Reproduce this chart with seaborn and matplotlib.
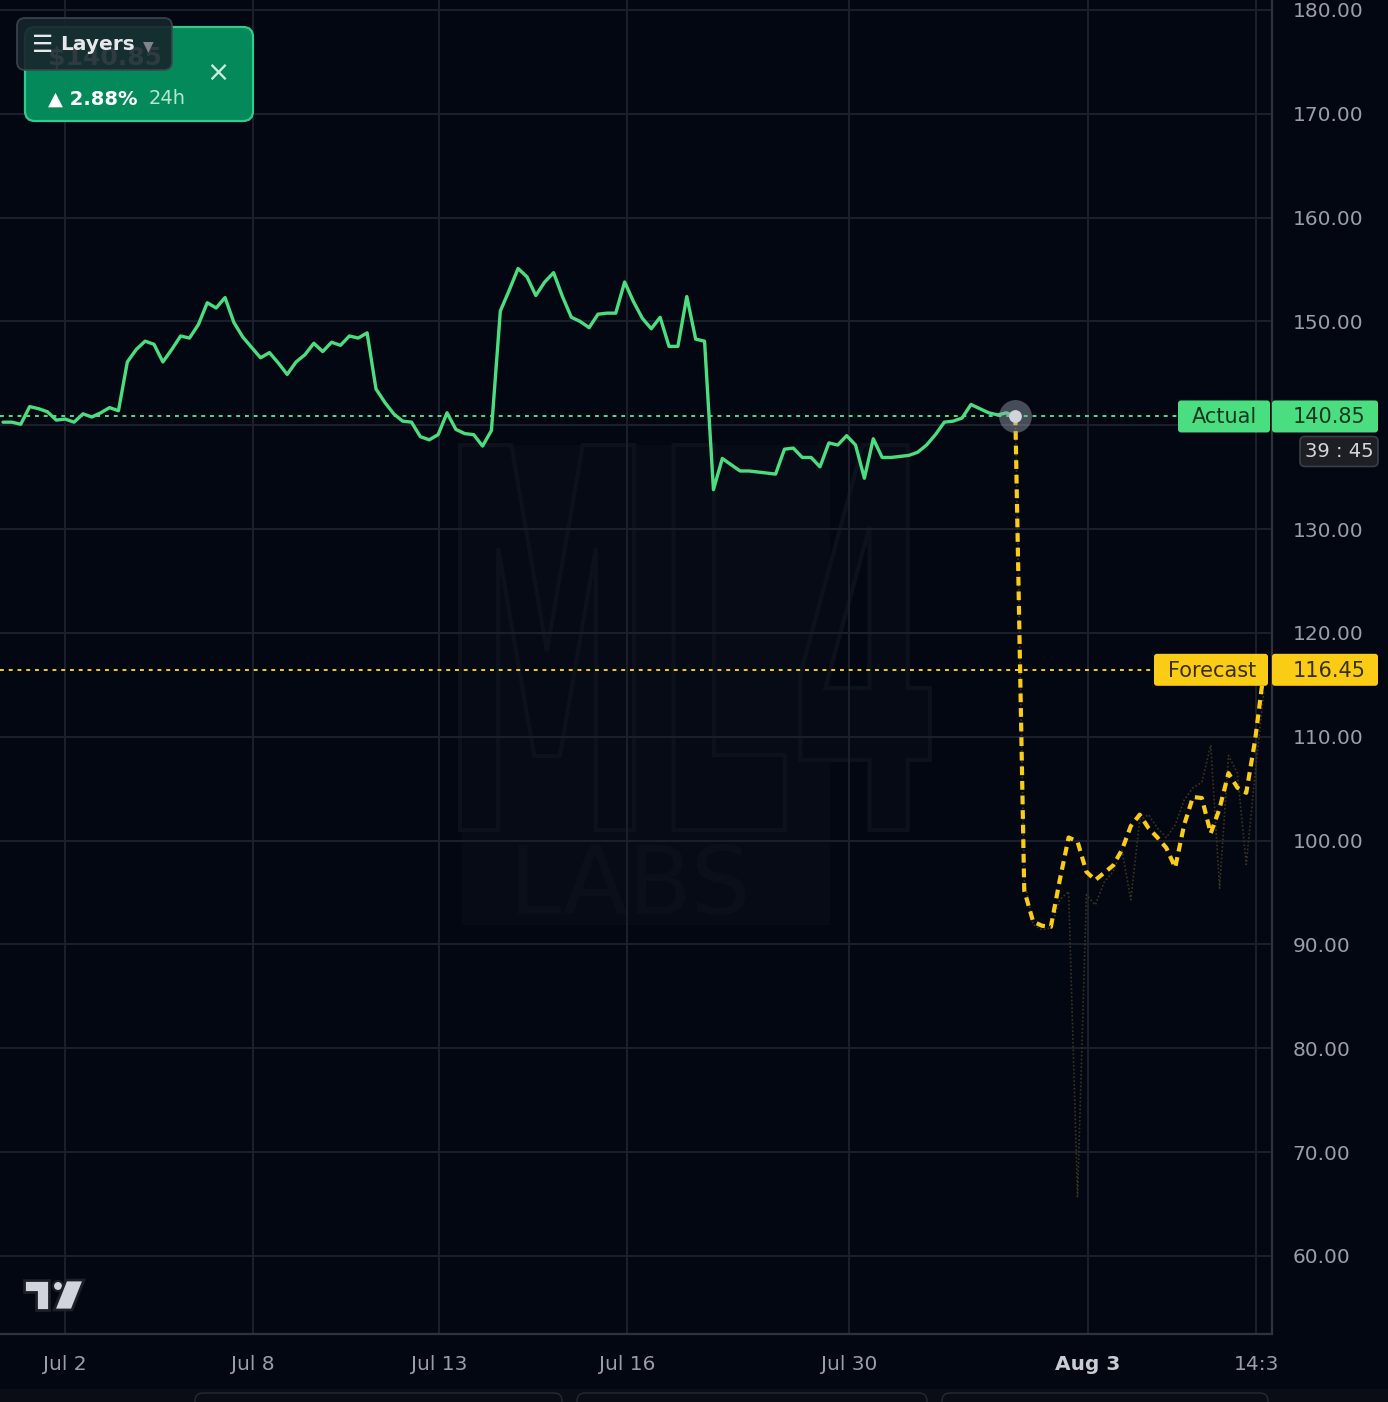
"""
Actual vs forecast price chart, TradingView style dark theme.
"""

import numpy as np
import pandas as pd
import matplotlib
matplotlib.use("Agg")
import matplotlib.pyplot as plt
import seaborn as sns
from matplotlib.patches import FancyBboxPatch, Polygon, Circle, Rectangle, PathPatch
from matplotlib.textpath import TextPath
from matplotlib.font_manager import FontProperties
from matplotlib.transforms import Affine2D

# ---- data (one value per bar) ----
ACTUAL = [
    140.3, 140.3, 140.1, 141.8, 141.6, 141.3, 140.5, 140.6, 140.3, 141.1,
    140.8, 141.2, 141.7, 141.4, 146.1, 147.3, 148.1, 147.8, 146.1, 147.3,
    148.6, 148.4, 149.7, 151.8, 151.3, 152.3, 149.9, 148.5, 147.5, 146.5,
    147.0, 146.0, 144.9, 146.1, 146.8, 147.9, 147.1, 148.0, 147.7, 148.6,
    148.4, 148.9, 143.5, 142.2, 141.1, 140.4, 140.3, 138.9, 138.6, 139.1,
    141.2, 139.6, 139.2, 139.1, 138.0, 139.5, 151.0, 153.0, 155.1, 154.3,
    152.5, 153.8, 154.7, 152.4, 150.4, 150.0, 149.4, 150.7, 150.8, 150.8,
    153.8, 151.9, 150.3, 149.3, 150.4, 147.6, 147.6, 152.4, 148.3, 148.1,
    133.8, 136.8, 136.2, 135.6, 135.6, 135.5, 135.4, 135.3, 137.7, 137.8,
    136.9, 136.9, 136.0, 138.3, 138.1, 139.0, 138.1, 134.9, 138.7, 136.9,
    136.9, 137.0, 137.1, 137.4, 138.1, 139.1, 140.3, 140.4, 140.7, 142.0,
    141.6, 141.2, 141.0, 141.2, 140.85,
]
# forecast starts at the last actual bar
FORECAST = [
    140.85, 95.2, 92.2, 91.8, 91.7, 96.2, 100.3, 99.9, 97.0, 96.2,
    96.9, 97.6, 99.1, 101.4, 102.5, 101.2, 100.3, 99.3, 97.4, 101.5,
    104.2, 104.1, 100.7, 103.1, 106.5, 105.1, 104.6, 109.7, 116.45,
]
# faint raw model path behind the forecast
RAW_PATH = [
    140.85, 96.2, 91.9, 91.4, 91.6, 94.3, 95.1, 65.7, 94.8, 93.8,
    96.0, 97.0, 99.1, 94.3, 102.0, 102.5, 101.2, 100.3, 101.5, 103.9,
    105.1, 105.6, 109.2, 95.4, 108.2, 106.5, 97.7, 106.5, 114.5,
]
X_TICK_BARS = [7.0, 28.15, 49.1, 70.3, 95.3, 122.2, 141.1]
X_TICK_LABELS = ["Jul 2", "Jul 8", "Jul 13", "Jul 16", "Jul 30", "Aug 3", "14:3"]
Y_TICKS = [60, 70, 80, 90, 100, 110, 120, 130, 140, 150, 160, 170, 180]
LAST_ACTUAL = 140.85
LAST_FORECAST = 116.45
COUNTDOWN = "39 : 45"
CHANGE_24H = "2.88%"

BG = "#030712"
GRID = "#1b202c"
GREEN = "#4ade80"
YELLOW = "#facc15"
TXT = "#9a9ea8"
W, H = 1388, 1402

sns.set_theme(style="darkgrid", rc={
    "axes.facecolor": BG, "figure.facecolor": BG, "grid.color": GRID,
    "grid.linewidth": 1.4, "axes.edgecolor": "#2f333d",
})
plt.rcParams["font.family"] = ["DejaVu Sans"]

fig = plt.figure(figsize=(W / 100, H / 100), dpi=100)

# underlay for the faint watermark (behind grid and lines)
under = fig.add_axes([0, 0, 1, 1], zorder=-1)
under.set_xlim(0, W)
under.set_ylim(H, 0)
under.axis("off")
under.add_patch(Rectangle((462, 445), 368, 480, color="#070b15", lw=0))
tp = TextPath((0, 0), "ML4", size=100, prop=FontProperties(family="DejaVu Sans", weight="bold"))
ext = tp.get_extents()
sx = 470 / ext.width
sy = 385 / ext.height
wm = Affine2D().translate(-ext.x0, -ext.y0).scale(sx, -sy).translate(460, 830)
under.add_patch(PathPatch(wm.transform_path(tp), fc="#060a14", ec="#0c111c", lw=3))
under.text(630, 888, "LABS", ha="center", va="center", fontsize=68, color="#0b0f1a")

ax = fig.add_axes([0, 68 / H, 1272 / W, 1334 / H], zorder=0)
ax.set_facecolor("none")

start = len(ACTUAL) - 1
act_df = pd.DataFrame({"bar": np.arange(len(ACTUAL)), "price": ACTUAL})
fc_df = pd.DataFrame({"bar": np.arange(start, start + len(FORECAST)), "price": FORECAST})
raw_df = pd.DataFrame({"bar": np.arange(start, start + len(RAW_PATH)), "price": RAW_PATH})

sns.lineplot(data=raw_df, x="bar", y="price", ax=ax, color="#3a361c", lw=1.2, zorder=2)
ax.lines[-1].set_linestyle((0, (1, 1.3)))
sns.lineplot(data=act_df, x="bar", y="price", ax=ax, color=GREEN, lw=2.4, zorder=4)
sns.lineplot(data=fc_df, x="bar", y="price", ax=ax, color=YELLOW, lw=3.0, zorder=5)
ax.lines[-1].set_linestyle((0, (2.1, 1.4)))

# last price lines
ax.axhline(LAST_ACTUAL, xmax=1180 / 1272, color=GREEN, lw=1.4, ls=(0, (2, 2.5)), zorder=3)
ax.axhline(LAST_FORECAST, xmax=1155 / 1272, color=YELLOW, lw=1.4, ls=(0, (2, 2.5)), zorder=3)

# marker at the hand-off point
ax.scatter([start], [LAST_ACTUAL], s=560, color="#9ca3af", alpha=0.45, lw=0, zorder=6)
ax.scatter([start], [LAST_ACTUAL], s=85, color="#d1d5db", lw=0, zorder=7)

ax.set_xlim(-0.34, 142.9)
ax.set_ylim(52.48, 180.96)
ax.set_xticks(X_TICK_BARS)
ax.set_xticklabels(X_TICK_LABELS)
ax.set_yticks(Y_TICKS)
# 140.00 sits under the last-price label, so it is left blank
ax.set_yticklabels(["" if v == 140 else f"{v:.2f}" for v in Y_TICKS])
ax.yaxis.tick_right()
ax.tick_params(axis="y", length=0, pad=15, labelsize=14.5, labelcolor=TXT)
ax.tick_params(axis="x", length=0, pad=15, labelsize=14.5, labelcolor=TXT)
for lab in ax.get_xticklabels():
    if lab.get_text() == "Aug 3":
        lab.set_fontweight("bold")
        lab.set_color("#c9ccd3")
ax.set_xlabel("")
ax.set_ylabel("")
for side in ["top", "left"]:
    ax.spines[side].set_visible(False)
for side in ["right", "bottom"]:
    ax.spines[side].set_visible(True)
    ax.spines[side].set_color("#2f333d")
    ax.spines[side].set_linewidth(1.6)

# overlay in pixel coords for the UI pieces
ov = fig.add_axes([0, 0, 1, 1], zorder=10)
ov.set_xlim(0, W)
ov.set_ylim(H, 0)
ov.axis("off")
ov.patch.set_alpha(0)


def ypix(v):
    return H - ax.transData.transform((0, v))[1]


# price labels
ya = ypix(LAST_ACTUAL)
ov.add_patch(FancyBboxPatch((1178, ya - 16), 92, 32, boxstyle="round,pad=0,rounding_size=3",
                            fc=GREEN, ec="none"))
ov.add_patch(FancyBboxPatch((1272, ya - 16), 106, 32, boxstyle="round,pad=0,rounding_size=3",
                            fc=GREEN, ec="none"))
ov.text(1224, ya + 1, "Actual", ha="center", va="center", fontsize=15, color="#123821")
ov.text(1293, ya + 1, f"{LAST_ACTUAL:.2f}", ha="left", va="center", fontsize=15, color="#123821")
ov.add_patch(FancyBboxPatch((1300, ya + 20), 78, 30, boxstyle="round,pad=0,rounding_size=5",
                            fc="#1d1f25", ec="#3b3e46", lw=1.2))
ov.text(1339, ya + 35, COUNTDOWN, ha="center", va="center", fontsize=14, color="#d4d6dc")

yf = ypix(LAST_FORECAST)
ov.add_patch(FancyBboxPatch((1154, yf - 16), 114, 32, boxstyle="round,pad=0,rounding_size=3",
                            fc=YELLOW, ec="none"))
ov.add_patch(FancyBboxPatch((1272, yf - 16), 106, 32, boxstyle="round,pad=0,rounding_size=3",
                            fc=YELLOW, ec="none"))
ov.text(1212, yf + 1, "Forecast", ha="center", va="center", fontsize=15, color="#3a3005")
ov.text(1293, yf + 1, f"{LAST_FORECAST:.2f}", ha="left", va="center", fontsize=15, color="#3a3005")

# top-left ticker card, partly hidden by the Layers button
ov.add_patch(FancyBboxPatch((25, 27), 228, 94, boxstyle="round,pad=0,rounding_size=10",
                            fc="#04895b", ec="#34c98d", lw=1.6, zorder=1))
ov.text(48, 58, f"${LAST_ACTUAL:.2f}", ha="left", va="center", fontsize=18, fontweight="bold",
        color="white", zorder=1.5)
ov.text(48, 99, f"▲ {CHANGE_24H}", ha="left", va="center", fontsize=14, fontweight="bold",
        color="white", zorder=1.5)
ov.text(149, 99, "24h", ha="left", va="center", fontsize=14, color="#b7e6cf", zorder=1.5)
ov.text(218, 73, "×", ha="center", va="center", fontsize=20, color="#cfeadf", zorder=1.5)
ov.add_patch(FancyBboxPatch((17, 18), 155, 52, boxstyle="round,pad=0,rounding_size=8",
                            fc="#18242c", ec="#3c4651", lw=1.3, alpha=0.9, zorder=2))
ov.text(43, 45, "☰", ha="center", va="center", fontsize=17, fontweight="bold",
        color="#e6e8ec", zorder=3)
ov.text(60, 45, "Layers", ha="left", va="center", fontsize=14.5, fontweight="bold",
        color="#e6e8ec", zorder=3)
ov.text(148, 46, "▼", ha="center", va="center", fontsize=10, color="#7f8590", zorder=3)

# TradingView logo
logo = "#d1d4dc"
ov.add_patch(Polygon([(24, 1280), (49, 1280), (49, 1310), (36, 1310), (36, 1292), (24, 1292)],
                     closed=True, fc=logo, ec="#1c1f27", lw=2))
ov.add_patch(Circle((58, 1286), 5, fc=logo, ec="#1c1f27", lw=1.5))
ov.add_patch(Polygon([(66, 1280), (84, 1280), (72, 1310), (54, 1310)], closed=True,
                     fc=logo, ec="#1c1f27", lw=2))

# bottom toolbar strip
ov.add_patch(Rectangle((0, 1389), W, 13, fc="#0a0d16", ec="none"))
for x0, x1 in [(195, 562), (577, 927), (942, 1268)]:
    ov.add_patch(FancyBboxPatch((x0, 1393), x1 - x0, 20, boxstyle="round,pad=0,rounding_size=8",
                                fc="#0a0d16", ec="#262a33", lw=1))

fig.savefig("out.png", dpi=100, facecolor=BG)
